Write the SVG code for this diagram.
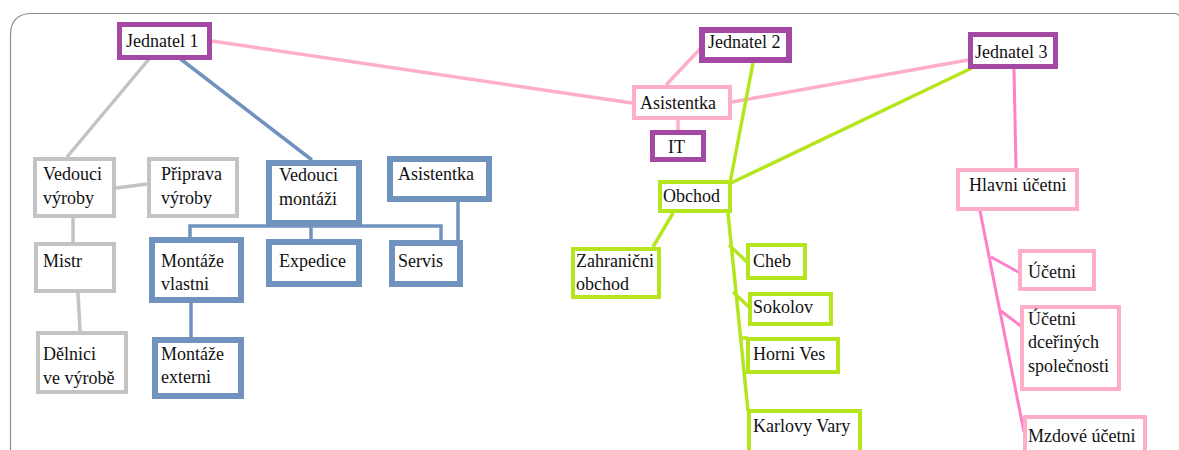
<svg xmlns="http://www.w3.org/2000/svg" width="1179" height="450" viewBox="0 0 1179 450">
<style>
.t{font-family:"Liberation Serif","Times New Roman",serif;font-size:18px;fill:#111}
.n{fill:#fff}
.pu{stroke:#a349a4;stroke-width:5}
.pu6{stroke:#a349a4;stroke-width:6}
.gr{stroke:#c3c3c3;stroke-width:4}
.bl{stroke:#7092be;stroke-width:6}
.pk{stroke:#ffaec9;stroke-width:4}
.gn{stroke:#b5e61d;stroke-width:4}
.c{fill:none;stroke-linecap:butt}
.cg{stroke:#c3c3c3;stroke-width:3.5}
.cb{stroke:#7092be;stroke-width:3.5}
.cp{stroke:#ffaec9;stroke-width:3.5}
.ch{stroke:#ff80c8;stroke-width:3}
.cn{stroke:#b5e61d;stroke-width:3.5}
</style>
<rect width="1179" height="450" fill="#fff"/>
<path d="M10.5 452 L10.5 35 Q10.5 13.5 32 13.5 L1175 13.5 Q1178 13.5 1179 15.5" fill="none" stroke="#8c8c8c" stroke-width="1.2"/>
<g id="connectors" class="c">
<line class="cg" x1="149" y1="59" x2="67" y2="157"/>
<line class="cg" x1="116" y1="188" x2="147" y2="184"/>
<line class="cg" x1="73" y1="218" x2="73" y2="242"/>
<line class="cg" x1="78" y1="293" x2="80" y2="331"/>
<line class="cb" x1="178" y1="57" x2="312" y2="160"/>
<polyline class="cb" stroke-width="3" fill="none" points="190,237 190,226 441,226 441,240"/>
<line class="cb" x1="311" y1="224" x2="311" y2="240"/>
<line class="cb" x1="191" y1="303" x2="191" y2="337"/>
<line class="cb" x1="458" y1="201" x2="458" y2="241"/>
<line class="cp" x1="212" y1="41" x2="632" y2="103"/>
<line class="cp" stroke-width="3" x1="702" y1="47" x2="666" y2="85"/>
<line class="cp" stroke-width="3" x1="678" y1="120" x2="678" y2="130"/>
<line class="cp" stroke-width="4.5" x1="732" y1="102" x2="968" y2="60"/>
<line class="ch" x1="1014" y1="69" x2="1016" y2="168"/>
<line class="ch" x1="980" y1="211" x2="1024" y2="432"/>
<line class="ch" x1="991" y1="257" x2="1020" y2="273"/>
<line class="ch" x1="1001" y1="311" x2="1022" y2="327"/>
<line class="cn" x1="753" y1="63" x2="730" y2="183"/>
<line class="cn" x1="972" y1="68" x2="731" y2="183"/>
<line class="cn" x1="673" y1="213" x2="653" y2="247"/>
<line class="cn" x1="728" y1="213" x2="748" y2="411"/>
<line class="cn" x1="729" y1="245" x2="747" y2="262"/>
<line class="cn" x1="733" y1="292" x2="749" y2="307"/>
<line class="cn" x1="742" y1="338" x2="748" y2="338"/>
</g>
<g id="jednatel1"><rect class="n pu" x="119.5" y="24.5" width="90" height="33"/><text class="t" x="126" y="47">Jednatel 1</text></g>
<g id="vedouci-vyroby"><rect class="n gr" x="35" y="159" width="79" height="57"/><text class="t" x="43" y="180">Vedouci</text><text class="t" x="43" y="204">výroby</text></g>
<g id="priprava-vyroby"><rect class="n gr" x="149" y="159" width="88" height="57"/><text class="t" x="161" y="180">Připrava</text><text class="t" x="161" y="204">výroby</text></g>
<g id="vedouci-montazi"><rect class="n bl" x="269" y="163" width="90" height="60"/><text class="t" x="279" y="181">Vedouci</text><text class="t" x="279" y="205">montáži</text></g>
<g id="asistentka-1"><rect class="n bl" x="390" y="159" width="99" height="40"/><text class="t" x="398" y="180">Asistentka</text></g>
<g id="mistr"><rect class="n gr" x="36" y="244" width="78" height="47"/><text class="t" x="43" y="267">Mistr</text></g>
<g id="delnici"><rect class="n gr" x="38" y="333" width="88" height="59"/><text class="t" x="43" y="360">Dělnici</text><text class="t" x="43" y="384">ve výrobě</text></g>
<g id="montaze-vlastni"><rect class="n bl" x="152" y="240" width="89" height="60"/><text class="t" x="161" y="267">Montáže</text><text class="t" x="161" y="290">vlastni</text></g>
<g id="montaze-externi"><rect class="n bl" x="155" y="340" width="86" height="56"/><text class="t" x="161" y="360">Montáže</text><text class="t" x="161" y="383">externi</text></g>
<g id="expedice"><rect class="n bl" x="269" y="242" width="90" height="42"/><text class="t" x="279" y="267">Expedice</text></g>
<g id="servis"><rect class="n bl" x="392" y="243" width="68" height="41"/><text class="t" x="398" y="267">Servis</text></g>
<g id="jednatel2"><rect class="n pu6" x="702" y="30" width="87" height="30"/><text class="t" x="708" y="48">Jednatel 2</text></g>
<g id="asistentka-2"><rect class="n pk" x="634" y="87" width="96" height="31"/><text class="t" x="640" y="109">Asistentka</text></g>
<g id="it"><rect class="n pu" x="652.5" y="132.5" width="51" height="27"/><text class="t" x="668" y="153">IT</text></g>
<g id="jednatel3"><rect class="n pu" x="970.5" y="34.5" width="85" height="32"/><text class="t" x="975" y="58">Jednatel 3</text></g>
<g id="obchod"><rect class="n gn" x="660" y="182" width="70" height="29"/><text class="t" x="663" y="202">Obchod</text></g>
<g id="hlavni-ucetni"><rect class="n pk" x="958" y="170" width="119" height="39"/><text class="t" x="969" y="191">Hlavni účetni</text></g>
<g id="zahranicni-obchod"><rect class="n gn" x="573" y="249" width="86" height="48"/><text class="t" x="576" y="267">Zahranični</text><text class="t" x="576" y="290">obchod</text></g>
<g id="cheb"><rect class="n gn" x="748" y="245" width="57" height="33"/><text class="t" x="753" y="267">Cheb</text></g>
<g id="sokolov"><rect class="n gn" x="750" y="294" width="81" height="30"/><text class="t" x="753" y="313">Sokolov</text></g>
<g id="horni-ves"><rect class="n gn" x="748" y="339" width="90" height="33"/><text class="t" x="753" y="360">Horni Ves</text></g>
<g id="karlovy-vary"><rect class="n gn" x="749" y="411" width="111" height="44"/><text class="t" x="753" y="432">Karlovy Vary</text></g>
<g id="ucetni"><rect class="n pk" x="1020" y="251" width="74" height="38"/><text class="t" x="1028" y="278">Účetni</text></g>
<g id="ucetni-dcerinych"><rect class="n pk" x="1022" y="307" width="97" height="82"/><text class="t" x="1028" y="325">Účetni</text><text class="t" x="1028" y="348">dceřiných</text><text class="t" x="1028" y="372">společnosti</text></g>
<g id="mzdove-ucetni"><rect class="n pk" x="1025" y="417" width="120" height="40"/><text class="t" x="1028" y="442">Mzdové účetni</text></g>
</svg>
